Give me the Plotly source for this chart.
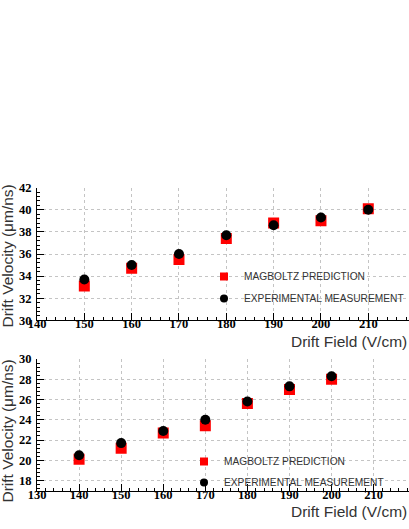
import plotly.graph_objects as go

# top panel data
field_top = [150, 160, 170, 180, 190, 200, 210]
magboltz_top = [33.1, 34.7, 35.5, 37.4, 38.8, 39.0, 40.1]
measured_top = [33.7, 35.0, 36.0, 37.7, 38.6, 39.3, 40.0]

# bottom panel data
field_bot = [140, 150, 160, 170, 180, 190, 200]
magboltz_bot = [20.1, 21.2, 22.7, 23.4, 25.6, 27.0, 28.0]
measured_bot = [20.5, 21.7, 22.9, 24.0, 25.8, 27.3, 28.3]

name_pred = "MAGBOLTZ PREDICTION"
name_meas = "EXPERIMENTAL MEASUREMENT"
xtitle = "Drift Field (V/cm)"
ytitle = "Drift Velocity (μm/ns)"

W, H = 409, 529
L = 37

def py(px):
    return 1 - px / H

def px_x(px):
    return (px - L) / (W - L)

fig = go.Figure()
panels = [
    ("x", "y", "legend", field_top, magboltz_top, measured_top),
    ("x2", "y2", "legend2", field_bot, magboltz_bot, measured_bot),
]
for xa, ya, lg, fx, mb, ms in panels:
    fig.add_trace(go.Scatter(x=fx, y=mb, mode="markers", name=name_pred, showlegend=False,
                             marker=dict(symbol="square", color="#ff0000", size=11),
                             xaxis=xa, yaxis=ya))
    fig.add_trace(go.Scatter(x=fx, y=ms, mode="markers", name=name_meas, showlegend=False,
                             marker=dict(symbol="circle", color="#000000", size=10),
                             xaxis=xa, yaxis=ya))
    # legend entries (smaller symbols, as in the reference legend)
    fig.add_trace(go.Scatter(x=[None], y=[None], mode="markers", name=name_pred,
                             marker=dict(symbol="square", color="#ff0000", size=8),
                             xaxis=xa, yaxis=ya, legend=lg, legendgroup=lg + "a"))
    fig.add_trace(go.Scatter(x=[None], y=[None], mode="markers", name=name_meas,
                             marker=dict(symbol="circle", color="#000000", size=8),
                             xaxis=xa, yaxis=ya, legend=lg, legendgroup=lg + "b"))

tickfont = dict(family="Liberation Serif, Times New Roman, serif", size=12.5,
                color="#000000", weight="bold")
common_x = dict(showgrid=True, gridcolor="#c4c4c4", griddash="dot", gridwidth=1,
                showline=True, linecolor="#000000", linewidth=1,
                ticks="inside", ticklen=7, tickcolor="#000000", tickfont=tickfont,
                dtick=10, zeroline=False, automargin=False, ticklabelstandoff=-8,
                minor=dict(ticks="inside", ticklen=3, dtick=2, tickcolor="#000000", showgrid=False))
common_y = dict(showgrid=True, gridcolor="#c4c4c4", griddash="dot", gridwidth=1,
                showline=True, linecolor="#000000", linewidth=1,
                ticks="inside", ticklen=7, tickcolor="#000000", tickfont=tickfont,
                dtick=2, zeroline=False, ticklabelstandoff=2, automargin=False,
                minor=dict(ticks="inside", ticklen=3, dtick=0.4, tickcolor="#000000", showgrid=False))

legfont = dict(family="Liberation Sans", size=10.2, color="#333333")
fig.update_layout(
    width=W, height=H,
    margin=dict(l=L, r=0, t=0, b=0),
    paper_bgcolor="white", plot_bgcolor="white",
    xaxis=dict(common_x, domain=[0, 1], range=[140, 218.6], anchor="y", tick0=140),
    yaxis=dict(common_y, domain=[py(320.3), py(187.7)], range=[30, 42], anchor="x"),
    xaxis2=dict(common_x, domain=[0, 1], range=[130, 218.4], anchor="y2", tick0=130),
    yaxis2=dict(common_y, domain=[py(490.7), py(359)], range=[17, 30], anchor="x2", tick0=18),
    legend=dict(x=1, y=py(262), xanchor="right", yanchor="top", font=legfont,
                bgcolor="rgba(0,0,0,0)", tracegroupgap=3, itemwidth=30),
    legend2=dict(x=px_x(184), y=py(447), xanchor="left", yanchor="top", font=legfont,
                 bgcolor="rgba(0,0,0,0)", tracegroupgap=2, itemwidth=30),
    showlegend=True,
)

title_font = dict(family="Liberation Sans", size=15.5, color="#333333")
annos = [
    dict(text=ytitle, textangle=-90, x=px_x(7), y=py(183), xanchor="center", yanchor="top"),
    dict(text=ytitle, textangle=-90, x=px_x(7), y=py(358), xanchor="center", yanchor="top"),
    dict(text=xtitle, x=1, y=py(341), xanchor="right", yanchor="middle"),
    dict(text=xtitle, x=1, y=py(511), xanchor="right", yanchor="middle"),
]
for a in annos:
    fig.add_annotation(xref="paper", yref="paper", showarrow=False, font=title_font, **a)

post = (
    "document.body.style.margin='0';"
    "document.body.style.overflow='hidden';"
)
fig.write_html("out.html", config={"displayModeBar": False}, post_script=post)
